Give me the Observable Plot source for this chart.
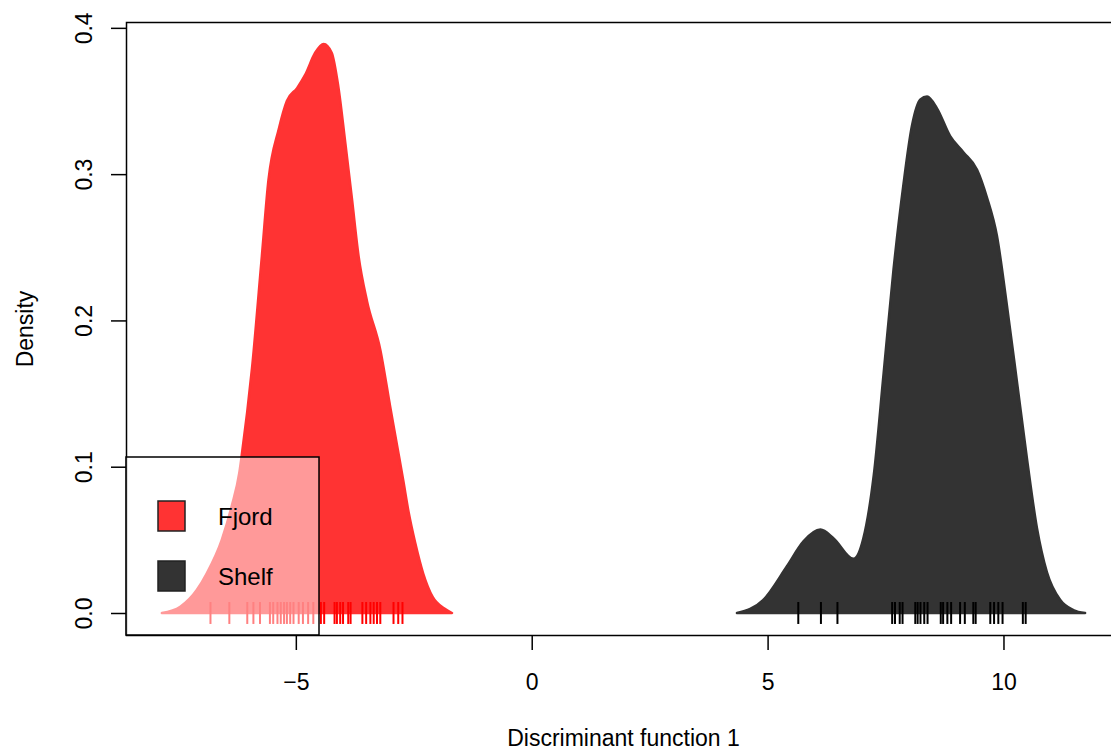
<!DOCTYPE html>
<html>
<head>
<meta charset="utf-8">
<script src="https://cdn.jsdelivr.net/npm/d3@7"></script>
<script src="https://cdn.jsdelivr.net/npm/@observablehq/plot@0.6"></script>
<style>
  html, body { margin: 0; padding: 0; background: #fff; overflow: hidden; }
  #chart svg { display: block; }
</style>
</head>
<body>
<div id="chart"></div>
<script>
// ---- data ----
const groups = ["Fjord", "Shelf"];
const groupFill = ["#ff3333", "#333333"];
const rugColor = ["#ff0000", "#000000"];

const fjordX = [-7.84, -7.45, -7.10, -6.89, -6.57, -6.36, -6.20, -6.15, -5.93, -5.72, -5.58, -5.36, -5.19, -4.97, -4.80, -4.59, -4.41, -4.24, -4.10, -3.95, -3.81, -3.67, -3.49, -3.21, -3.00, -2.84, -2.72, -2.61, -2.47, -2.30, -2.10, -1.85, -1.69];
const fjordDensity = [0, 0.0043, 0.0157, 0.027, 0.050, 0.073, 0.0955, 0.107, 0.167, 0.244, 0.296, 0.331, 0.350, 0.359, 0.368, 0.383, 0.389, 0.383, 0.360, 0.321, 0.283, 0.244, 0.213, 0.180, 0.141, 0.112, 0.090, 0.069, 0.048, 0.027, 0.011, 0.003, 0];

const shelfX = [4.35, 4.91, 5.41, 5.76, 6.12, 6.40, 6.82, 7.03, 7.25, 7.46, 7.67, 7.88, 8.06, 8.24, 8.38, 8.59, 8.87, 9.15, 9.44, 9.65, 9.86, 10.07, 10.29, 10.50, 10.71, 10.92, 11.20, 11.48, 11.73];
const shelfDensity = [0, 0.009, 0.032, 0.049, 0.057, 0.051, 0.037, 0.051, 0.094, 0.164, 0.235, 0.293, 0.333, 0.351, 0.353, 0.345, 0.326, 0.315, 0.303, 0.284, 0.258, 0.211, 0.157, 0.105, 0.058, 0.028, 0.009, 0.002, 0];

const fjordRug = [-6.82, -6.42, -6.04, -5.91, -5.77, -5.56, -5.49, -5.40, -5.33, -5.26, -5.20, -5.13, -5.06, -4.95, -4.86, -4.75, -4.64, -4.48, -4.41, -4.19, -4.14, -4.07, -4.01, -3.90, -3.85, -3.60, -3.52, -3.43, -3.36, -3.29, -3.22, -2.94, -2.84, -2.75];
const shelfRug = [5.64, 6.12, 6.47, 7.63, 7.69, 7.79, 7.85, 8.12, 8.17, 8.23, 8.31, 8.38, 8.66, 8.71, 8.80, 8.88, 9.07, 9.17, 9.35, 9.40, 9.71, 9.79, 9.88, 9.97, 10.40, 10.46];

const xTicks = [-5, 0, 5, 10];
const yTicks = [0, 0.1, 0.2, 0.3, 0.4];
const xLabel = "Discriminant function 1";
const yLabel = "Density";

// ---- tables built from the arrays ----
const fjord = fjordX.map((x, i) => ({x, d: fjordDensity[i]}));
const shelf = shelfX.map((x, i) => ({x, d: shelfDensity[i]}));

const FONT = "'Liberation Sans', Arial, Helvetica, sans-serif";

const plot = Plot.plot({
  width: 1111,
  height: 751,
  marginLeft: 126,
  marginTop: 22,
  marginBottom: 116,
  marginRight: -9,
  style: {fontFamily: FONT, fontSize: "23px", color: "#000", background: "#fff", overflow: "hidden"},
  x: {domain: [-8.60, 12.47]},
  y: {domain: [-0.01504, 0.404]},
  marks: [
    Plot.areaY(fjord, {x: "x", y: "d", fill: groupFill[0], stroke: groupFill[0], strokeWidth: 2.5, strokeLinejoin: "round", curve: "monotone-x"}),
    Plot.areaY(shelf, {x: "x", y: "d", fill: groupFill[1], stroke: groupFill[1], strokeWidth: 2.5, strokeLinejoin: "round", curve: "monotone-x"}),
    Plot.ruleX(fjordRug, {x: d => d, y1: -0.0075, y2: 0.0075, stroke: rugColor[0], strokeWidth: 2}),
    Plot.ruleX(shelfRug, {x: d => d, y1: -0.0075, y2: 0.0075, stroke: rugColor[1], strokeWidth: 2}),
    Plot.frame({stroke: "#000", strokeWidth: 1.5}),
    Plot.axisX({ticks: xTicks, tickSize: 15, tickPadding: 23, strokeWidth: 1.5, label: null, fontSize: 23}),
    Plot.axisY({ticks: yTicks, tickSize: 15, strokeWidth: 1.5, text: null, label: null}),
    Plot.text(yTicks, {y: d => d, text: d => d3.format(".1f")(d), frameAnchor: "left", dx: -35, rotate: -90, textAnchor: "middle", lineAnchor: "bottom", fontSize: 23}),
    Plot.text([xLabel], {frameAnchor: "bottom", dy: 110, lineAnchor: "bottom", textAnchor: "middle", fontSize: 23}),
    Plot.text([yLabel], {frameAnchor: "left", dx: -94, rotate: -90, lineAnchor: "bottom", textAnchor: "middle", fontSize: 23})
  ]
});

// ---- legend (bottom-left, inside the plot box, semi-transparent) ----
const sx = plot.scale("x"), sy = plot.scale("y");
const left = sx.range[0];
const bottom = sy.range[0];
const boxW = 193, boxH = 178;
const svg = d3.select(plot);
const lg = svg.append("g").attr("font-family", FONT).attr("font-size", 24).attr("text-anchor", "start");
lg.append("rect")
  .attr("x", left).attr("y", bottom - boxH)
  .attr("width", boxW).attr("height", boxH)
  .attr("fill", "#fff").attr("fill-opacity", 0.5)
  .attr("stroke", "#000").attr("stroke-width", 1.5);
groups.forEach((g, i) => {
  const cy = bottom - boxH + 59 + i * 60;
  lg.append("rect")
    .attr("x", left + 32).attr("y", cy - 15)
    .attr("width", 27).attr("height", 30)
    .attr("fill", groupFill[i]).attr("stroke", "#222").attr("stroke-width", 1.5);
  lg.append("text")
    .attr("x", left + 92).attr("y", cy + 9)
    .attr("text-anchor", "start")
    .attr("fill", "#000")
    .text(g);
});

document.getElementById("chart").appendChild(plot);
</script>
</body>
</html>
